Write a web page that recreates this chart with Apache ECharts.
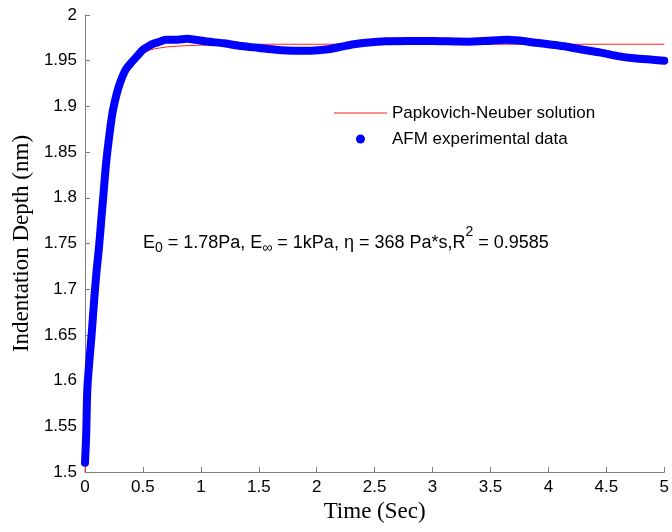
<!DOCTYPE html>
<html>
<head>
<meta charset="utf-8">
<script src="https://cdn.jsdelivr.net/npm/echarts@6/dist/echarts.min.js"></script>
<style>html,body{margin:0;padding:0;background:#fff}#c{width:672px;height:532px}</style>
</head>
<body>
<div id="c"></div>
<script>
// Papkovich-Neuber solution
var modelTime  = [0, 0.02, 0.05, 0.07, 0.10, 0.15, 0.20, 0.25, 0.30, 0.35, 0.40, 0.45, 0.50, 0.56, 0.60, 0.70, 0.80, 1.00, 1.30, 2.00, 3.00, 4.00, 5.00];
var modelDepth = [1.50, 1.566, 1.648, 1.69, 1.75, 1.819, 1.866, 1.899, 1.921, 1.936, 1.946, 1.952, 1.958, 1.9617, 1.963, 1.965, 1.966, 1.967, 1.968, 1.968, 1.968, 1.968, 1.968];

var afmTime  = [0, 0.01, 0.02, 0.04, 0.06, 0.08, 0.10, 0.12, 0.14, 0.16, 0.18, 0.20, 0.22, 0.24, 0.27, 0.30, 0.35, 0.40, 0.45, 0.50, 0.55, 0.60, 0.65, 0.70, 0.80, 0.88, 0.95, 1.05, 1.20, 1.35, 1.50, 1.65, 1.80, 1.95, 2.10, 2.20, 2.32, 2.45, 2.60, 2.80, 3.00, 3.20, 3.30, 3.45, 3.64, 3.75, 3.87, 4.00, 4.16, 4.30, 4.45, 4.60, 4.74, 4.90, 5.00];
var afmDepth = [1.510, 1.54, 1.59, 1.625, 1.655, 1.69, 1.72, 1.745, 1.775, 1.805, 1.835, 1.858, 1.878, 1.895, 1.912, 1.925, 1.940, 1.948, 1.955, 1.962, 1.966, 1.969, 1.971, 1.973, 1.973, 1.974, 1.973, 1.971, 1.969, 1.966, 1.964, 1.962, 1.961, 1.961, 1.9625, 1.965, 1.968, 1.970, 1.9712, 1.9715, 1.9715, 1.971, 1.9708, 1.9715, 1.973, 1.972, 1.970, 1.968, 1.9653, 1.962, 1.9588, 1.955, 1.9526, 1.951, 1.950];

var seriesNames = ['Papkovich-Neuber solution', 'AFM experimental data'];
var xAxisTitle = 'Time (Sec)';
var yAxisTitle = 'Indentation Depth (nm)';

function pairs(xs, ys) { return xs.map(function (x, i) { return [x, ys[i]]; }); }

var sansFont = "'Liberation Sans', Arial, Helvetica, sans-serif";
var serifFont = "'Liberation Serif', 'Times New Roman', serif";
var axisGray = '#7f7f7f';

var chart = echarts.init(document.getElementById('c'), null, {renderer: 'canvas'});
chart.setOption({
  animation: false,
  backgroundColor: '#ffffff',
  grid: {left: 85, right: 6, top: 15, bottom: 60},
  title: {
    left: 143, top: 234, padding: 0,
    text: '{n|E}{sub|0}{n| = 1.78Pa, E}{sub|∞}{n| = 1kPa, η = 368 Pa*s,R}{sup|2}{n| = 0.9585}',
    textStyle: {
      fontFamily: sansFont, fontWeight: 'normal',
      rich: {
        n: {fontFamily: sansFont, fontWeight: 'normal', fontSize: 18, color: '#000', lineHeight: 18, verticalAlign: 'middle'},
        sub: {fontFamily: sansFont, fontWeight: 'normal', fontSize: 14, color: '#000', lineHeight: 14, padding: [11, 0, 0, 0], verticalAlign: 'middle'},
        sup: {fontFamily: sansFont, fontWeight: 'normal', fontSize: 14, color: '#000', lineHeight: 14, padding: [0, 0, 22, 0], verticalAlign: 'middle'}
      }
    }
  },
  legend: {
    orient: 'vertical',
    left: 334, top: 104, padding: 0,
    itemWidth: 53, itemHeight: 9, itemGap: 8,
    textStyle: {fontFamily: sansFont, fontSize: 17, color: '#000', lineHeight: 18},
    data: [
      {name: seriesNames[0], icon: 'path://M0,0L53,0L53,1L0,1Z', itemStyle: {color: '#ff2020'}},
      {name: seriesNames[1], icon: 'circle', itemStyle: {color: '#0000ff'}}
    ]
  },
  xAxis: {
    type: 'value', min: 0, max: 5, interval: 0.5,
    name: xAxisTitle, nameLocation: 'middle', nameGap: 26,
    nameTextStyle: {fontFamily: serifFont, fontSize: 23, color: '#000'},
    axisLine: {show: true, onZero: false, lineStyle: {color: axisGray, width: 1}},
    axisTick: {show: true, inside: true, length: 5, lineStyle: {color: axisGray}},
    axisLabel: {fontFamily: sansFont, fontSize: 17, color: '#000', margin: 7},
    splitLine: {show: false}
  },
  yAxis: {
    type: 'value', min: 1.5, max: 2, interval: 0.05,
    name: yAxisTitle, nameLocation: 'middle', nameGap: 46, nameRotate: 90,
    nameTextStyle: {fontFamily: serifFont, fontSize: 23, color: '#000'},
    axisLine: {show: true, onZero: false, lineStyle: {color: axisGray, width: 1}},
    axisTick: {show: true, inside: true, length: 5, lineStyle: {color: axisGray}},
    axisLabel: {fontFamily: sansFont, fontSize: 17, color: '#000', margin: 8},
    splitLine: {show: false}
  },
  series: [
    {
      name: seriesNames[0], type: 'line', data: pairs(modelTime, modelDepth),
      symbol: 'none', showSymbol: false, smooth: false, clip: false,
      color: '#ff2020',
      lineStyle: {color: '#ff2020', width: 1}, z: 2
    },
    {
      name: seriesNames[1], type: 'line', data: pairs(afmTime, afmDepth),
      symbol: 'none', showSymbol: false, smooth: 0.3, clip: false,
      color: '#0000ff', itemStyle: {color: '#0000ff'},
      lineStyle: {color: '#0000ff', width: 8, cap: 'round', join: 'round'}, z: 3
    }
  ]
});
</script>
</body>
</html>
